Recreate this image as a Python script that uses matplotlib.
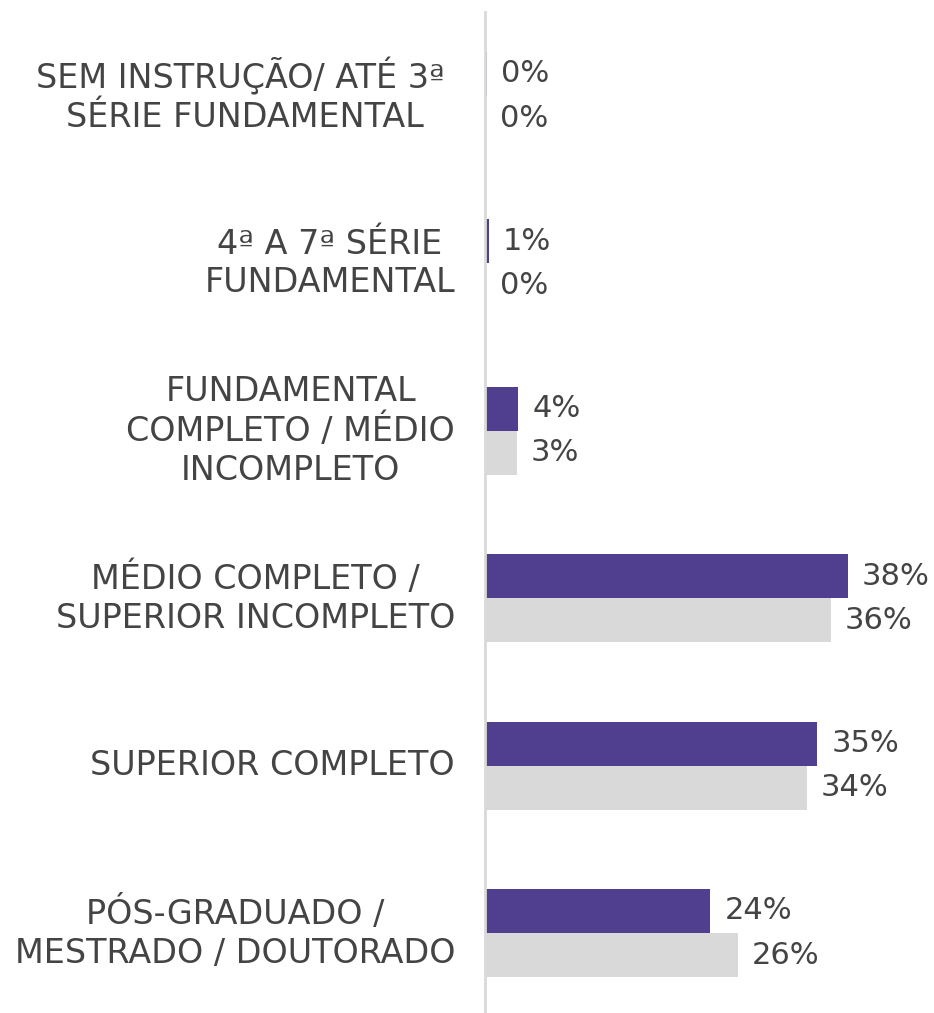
import matplotlib.pyplot as plt

# categorias e valores (%)
categorias = [
    'SEM INSTRUÇÃO/ ATÉ 3ª \nSÉRIE FUNDAMENTAL',
    '4ª A 7ª SÉRIE\nFUNDAMENTAL',
    'FUNDAMENTAL\nCOMPLETO / MÉDIO\nINCOMPLETO',
    'MÉDIO COMPLETO /\nSUPERIOR INCOMPLETO',
    'SUPERIOR COMPLETO',
    'PÓS-GRADUADO /\nMESTRADO / DOUTORADO',
]
serie_roxa = [0.2, 0.4, 3.5, 38.0, 34.8, 23.6]
serie_cinza = [0.1, 0.1, 3.3, 36.2, 33.7, 26.5]
rotulos_roxa = ['0%', '1%', '4%', '38%', '35%', '24%']
rotulos_cinza = ['0%', '0%', '3%', '36%', '34%', '26%']

roxo = '#503f8f'
cinza = '#d9d9d9'
cor_texto = '#444444'
fs = 24
fs_val = 22

plt.rcParams['font.family'] = ['DejaVu Sans']

W, H = 934, 1013
fig = plt.figure(figsize=(W / 100, H / 100), dpi=100)
ax = fig.add_axes([485 / W, 0, 1 - 485 / W, (H - 12) / H])

y = list(range(len(categorias)))
h = 0.263
ax.barh([v - h / 2 for v in y], serie_roxa, height=h, color=roxo)
ax.barh([v + h / 2 for v in y], serie_cinza, height=h, color=cinza)

ax.set_xlim(0, 449 / 9.55)
ax.set_ylim(5 + 80 / 167.4, -84 / 167.4)

for i in y:
    ax.annotate(rotulos_roxa[i], (serie_roxa[i], i - h / 2), xytext=(14, 0),
                textcoords='offset pixels', va='center', ha='left',
                fontsize=fs_val, color=cor_texto)
    ax.annotate(rotulos_cinza[i], (serie_cinza[i], i + h / 2), xytext=(14, 0),
                textcoords='offset pixels', va='center', ha='left',
                fontsize=fs_val, color=cor_texto)
    ax.annotate(categorias[i], (0, i), xytext=(-30, 0),
                textcoords='offset pixels', va='center', ha='right',
                multialignment='center', fontsize=fs, color=cor_texto,
                linespacing=1.22)

for s in ['top', 'right', 'bottom']:
    ax.spines[s].set_visible(False)
ax.spines['left'].set_color(cinza)
ax.spines['left'].set_linewidth(2)
ax.set_xticks([])
ax.set_yticks([])

fig.savefig('out.png', dpi=100)
